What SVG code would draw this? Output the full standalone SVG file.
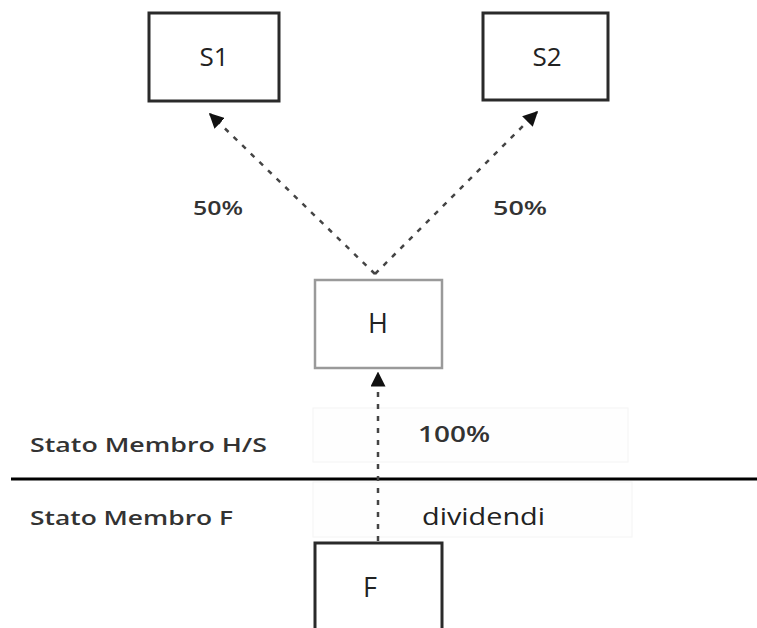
<svg xmlns="http://www.w3.org/2000/svg" width="757" height="628" viewBox="0 0 757 628">
<style>
.box{fill:#fff;stroke:#2a2a2a;stroke-width:3}
.hbox{fill:#fff;stroke:#9a9a9a;stroke-width:2.5}
.lbl{fill:#fefefe;stroke:#f4f4f4;stroke-width:1}
.t{font-family:"Open Sans","Liberation Sans",sans-serif;fill:#222}
.b{font-family:"Open Sans","Liberation Sans",sans-serif;font-weight:600;fill:#333}
.conn{stroke:#444;stroke-width:2.5;stroke-dasharray:5 7;fill:none}
</style>
<defs>
<marker id="ah" viewBox="0 0 10 10" refX="9" refY="5" markerWidth="6" markerHeight="6" markerUnits="strokeWidth" orient="auto">
<path d="M0,0 L10,5 L0,10 Z" fill="#111"/>
</marker>
</defs>
<rect width="757" height="628" fill="#fff"/>
<g id="labels-bg">
<rect class="lbl" x="313" y="408" width="315" height="54"/>
<rect class="lbl" x="313" y="482" width="319" height="55"/>
</g>
<line x1="11" y1="479" x2="757" y2="479" stroke="#000" stroke-width="3"/>
<g id="S1">
<rect class="box" x="149" y="13" width="130" height="88"/>
<text class="t" x="214" y="66" font-size="26" text-anchor="middle">S1</text>
</g>
<g id="S2">
<rect class="box" x="483" y="13" width="125" height="87"/>
<text class="t" x="547" y="66" font-size="26" text-anchor="middle">S2</text>
</g>
<g id="H">
<rect class="hbox" x="315" y="280" width="127" height="88"/>
<text class="t" x="378" y="333" font-size="27" text-anchor="middle">H</text>
</g>
<g id="F">
<rect class="box" x="315" y="543" width="127" height="90"/>
<text class="t" x="370" y="597" font-size="27" text-anchor="middle">F</text>
</g>
<g id="connectors">
<line class="conn" x1="375" y1="274" x2="210" y2="114" marker-end="url(#ah)"/>
<line class="conn" x1="375" y1="274" x2="537" y2="112" marker-end="url(#ah)"/>
<line class="conn" x1="378" y1="541" x2="378" y2="373" marker-end="url(#ah)"/>
</g>
<g id="texts">
<text class="b" x="193" y="215" font-size="20" textLength="50" lengthAdjust="spacingAndGlyphs">50%</text>
<text class="b" x="493" y="215" font-size="20" textLength="54" lengthAdjust="spacingAndGlyphs">50%</text>
<text class="b" x="418" y="442" font-size="22" textLength="72" lengthAdjust="spacingAndGlyphs">100%</text>
<text class="t" x="422" y="525" font-size="23" textLength="123" lengthAdjust="spacingAndGlyphs">dividendi</text>
<text class="b" x="30" y="452" font-size="20" textLength="237" lengthAdjust="spacingAndGlyphs">Stato Membro H/S</text>
<text class="b" x="30" y="525" font-size="20" textLength="203" lengthAdjust="spacingAndGlyphs">Stato Membro F</text>
</g>
</svg>
